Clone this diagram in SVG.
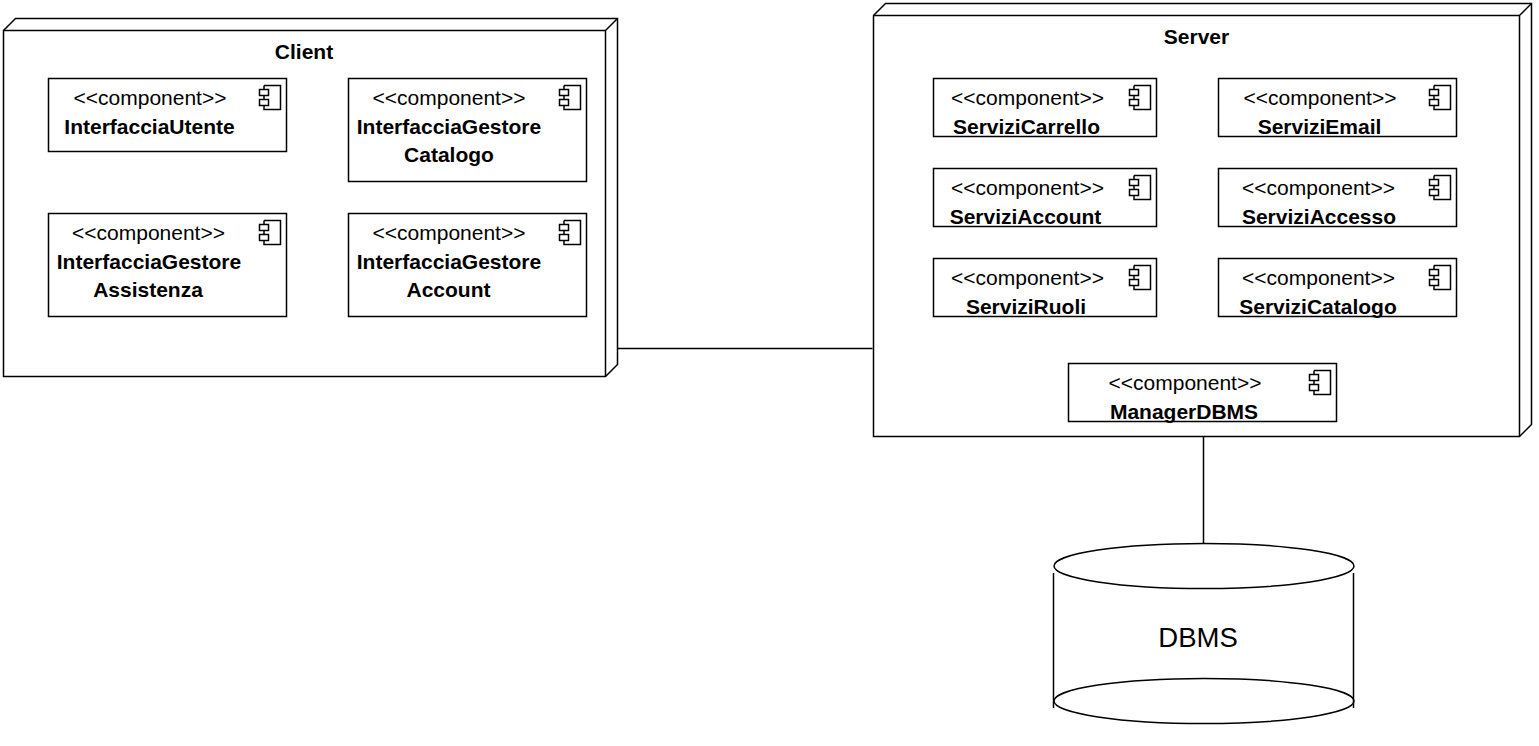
<svg xmlns="http://www.w3.org/2000/svg" xmlns:xlink="http://www.w3.org/1999/xlink" width="1539" height="746" viewBox="0 0 1539 746">
<style>
.l{fill:none;stroke:#000;stroke-width:1.5}
.b{fill:#fff;stroke:#000;stroke-width:1.5}
text{font-family:"Liberation Sans",Arial,sans-serif;fill:#000;text-anchor:middle}
.s{font-size:21px}
.n{font-size:21px;font-weight:bold}
.d{font-size:27.500px}
</style>
<defs>
<g id="icon">
<path class="l" d="M4.500 0H21V24H4.500V20M4.500 14V10M4.500 4V0"/>
<rect class="l" x="0" y="4" width="9" height="6"/>
<rect class="l" x="0" y="14" width="9" height="6"/>
</g>
</defs>
<rect width="1539" height="746" fill="#fff"/>
<g id="connectors">
<path class="l" d="M617.500 348.500H872.500"/>
<path class="l" d="M1203.500 437V544"/>
</g>
<g id="client">
<path class="b" d="M3.500 30.500L15.500 18.500H617.500V364.500L605.500 376.500H3.500Z"/>
<path class="l" d="M3.500 30.500H605.500V376.500M605.500 30.500L617.500 18.500"/>
<text class="n" x="304" y="59">Client</text>
</g>
<g id="server">
<path class="b" d="M873.500 15.500L885.500 3.500H1531.500V424.500L1519.500 436.500H873.500Z"/>
<path class="l" d="M873.500 15.500H1519.500V436.500M1519.500 15.500L1531.500 3.500"/>
<text class="n" x="1196.500" y="44">Server</text>
</g>
<g id="interfaccia-utente">
<rect class="b" x="48.500" y="78.500" width="238" height="73"/>
<use href="#icon" x="259.500" y="85.500"/>
<text class="s" x="150" y="105">&lt;&lt;component&gt;&gt;</text>
<text class="n" x="149.500" y="134">InterfacciaUtente</text>
</g>
<g id="interfaccia-gestore-catalogo">
<rect class="b" x="348.500" y="78.500" width="238" height="103"/>
<use href="#icon" x="559.500" y="85.500"/>
<text class="s" x="449" y="105">&lt;&lt;component&gt;&gt;</text>
<text class="n" x="449" y="134">InterfacciaGestore</text>
<text class="n" x="449" y="162">Catalogo</text>
</g>
<g id="interfaccia-gestore-assistenza">
<rect class="b" x="48.500" y="213.500" width="238" height="103"/>
<use href="#icon" x="259.500" y="220.500"/>
<text class="s" x="148.500" y="240">&lt;&lt;component&gt;&gt;</text>
<text class="n" x="149" y="269">InterfacciaGestore</text>
<text class="n" x="148" y="297">Assistenza</text>
</g>
<g id="interfaccia-gestore-account">
<rect class="b" x="348.500" y="213.500" width="238" height="103"/>
<use href="#icon" x="559.500" y="220.500"/>
<text class="s" x="449" y="240">&lt;&lt;component&gt;&gt;</text>
<text class="n" x="449" y="269">InterfacciaGestore</text>
<text class="n" x="448.500" y="297">Account</text>
</g>
<g id="servizi-carrello">
<rect class="b" x="933.500" y="78.500" width="223" height="58"/>
<use href="#icon" x="1129.500" y="85.500"/>
<text class="s" x="1027.500" y="105">&lt;&lt;component&gt;&gt;</text>
<text class="n" x="1026.500" y="134">ServiziCarrello</text>
</g>
<g id="servizi-email">
<rect class="b" x="1218.500" y="78.500" width="238" height="58"/>
<use href="#icon" x="1429.500" y="85.500"/>
<text class="s" x="1320" y="105">&lt;&lt;component&gt;&gt;</text>
<text class="n" x="1319.500" y="134">ServiziEmail</text>
</g>
<g id="servizi-account">
<rect class="b" x="933.500" y="168.500" width="223" height="58"/>
<use href="#icon" x="1129.500" y="175.500"/>
<text class="s" x="1027.500" y="195">&lt;&lt;component&gt;&gt;</text>
<text class="n" x="1025.500" y="224">ServiziAccount</text>
</g>
<g id="servizi-accesso">
<rect class="b" x="1218.500" y="168.500" width="238" height="58"/>
<use href="#icon" x="1429.500" y="175.500"/>
<text class="s" x="1318.500" y="195">&lt;&lt;component&gt;&gt;</text>
<text class="n" x="1319" y="224">ServiziAccesso</text>
</g>
<g id="servizi-ruoli">
<rect class="b" x="933.500" y="258.500" width="223" height="58"/>
<use href="#icon" x="1129.500" y="265.500"/>
<text class="s" x="1027.500" y="285">&lt;&lt;component&gt;&gt;</text>
<text class="n" x="1026" y="314">ServiziRuoli</text>
</g>
<g id="servizi-catalogo">
<rect class="b" x="1218.500" y="258.500" width="238" height="58"/>
<use href="#icon" x="1429.500" y="265.500"/>
<text class="s" x="1318.500" y="285">&lt;&lt;component&gt;&gt;</text>
<text class="n" x="1318" y="314">ServiziCatalogo</text>
</g>
<g id="manager-dbms">
<rect class="b" x="1068.500" y="363.500" width="268" height="58"/>
<use href="#icon" x="1309.500" y="370.500"/>
<text class="s" x="1185" y="390">&lt;&lt;component&gt;&gt;</text>
<text class="n" x="1184" y="419">ManagerDBMS</text>
</g>
<g id="dbms">
<ellipse class="b" cx="1204" cy="566" rx="150" ry="22.500"/>
<ellipse class="b" cx="1204" cy="701" rx="150" ry="22.500"/>
<path class="l" d="M1053.500 573V708M1353.500 573V708"/>
<text class="d" x="1198" y="647">DBMS</text>
</g>
</svg>
